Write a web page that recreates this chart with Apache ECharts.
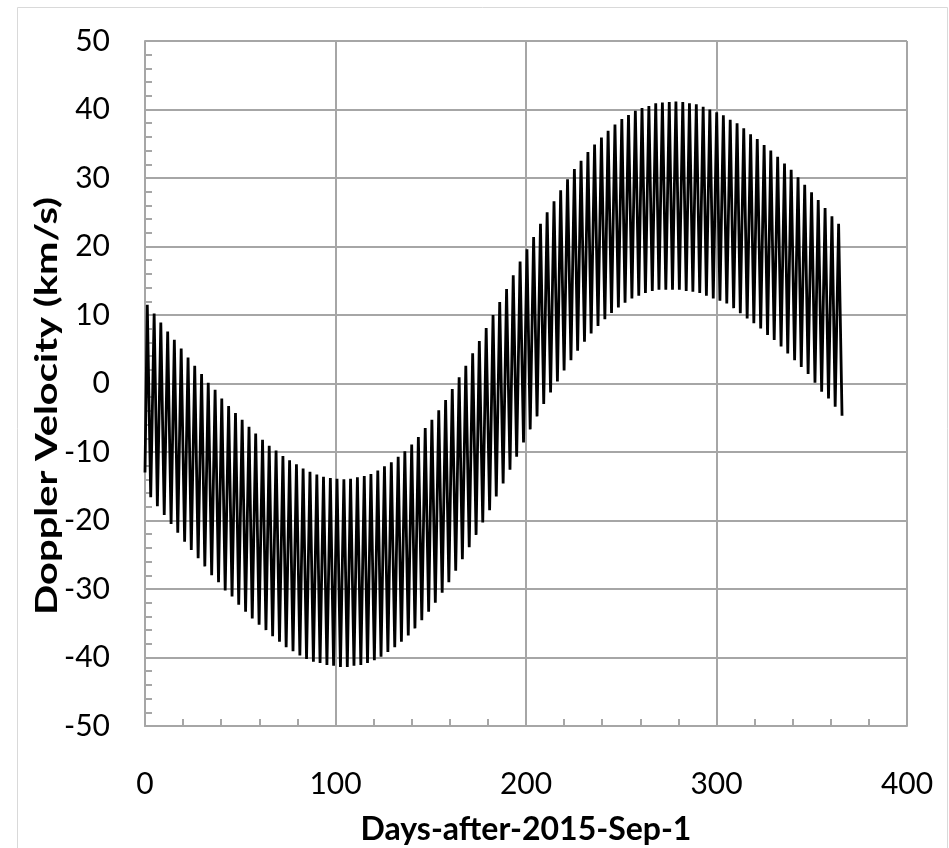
<!DOCTYPE html>
<html>
<head>
<meta charset="utf-8">
<script src="https://cdn.jsdelivr.net/npm/echarts@6/dist/echarts.min.js"></script>
<style>
html,body{margin:0;padding:0;background:#fff;}
#chart{width:949px;height:848px;}
</style>
</head>
<body>
<div id="chart"></div>
<script>
// ---- data ----
const xTicks = [0, 100, 200, 300, 400];
const yTicks = [-50, -40, -30, -20, -10, 0, 10, 20, 30, 40, 50];

const startPoint = [0, -13];

const peakDays = [1.2, 4.8, 8.3, 11.9, 15.4, 19.0, 22.6, 26.1, 29.7, 33.2,
  36.8, 40.3, 43.9, 47.5, 51.0, 54.6, 58.1, 61.7, 65.2, 68.8,
  72.4, 75.9, 79.5, 83.0, 86.6, 90.2, 93.7, 97.3, 100.8, 104.4,
  107.9, 111.5, 115.1, 118.6, 122.2, 125.7, 129.3, 132.9, 136.4, 140.0,
  143.5, 147.1, 150.6, 154.2, 157.8, 161.3, 164.9, 168.4, 172.0, 175.5,
  179.1, 182.7, 186.2, 189.8, 193.3, 196.9, 200.5, 204.0, 207.6, 211.1,
  214.7, 218.2, 221.8, 225.4, 228.9, 232.5, 236.0, 239.6, 243.1, 246.7,
  250.3, 253.8, 257.4, 260.9, 264.5, 268.1, 271.6, 275.2, 278.7, 282.3,
  285.8, 289.4, 293.0, 296.5, 300.1, 303.6, 307.2, 310.8, 314.3, 317.9,
  321.4, 325.0, 328.5, 332.1, 335.7, 339.2, 342.8, 346.3, 349.9, 353.4,
  357.0, 360.6, 364.1];

const peakVals = [11.5, 10.2, 8.9, 7.6, 6.4, 5.1, 3.8, 2.6, 1.4, 0.1,
  -0.9, -2.2, -3.3, -4.3, -5.3, -6.3, -7.3, -8.2, -9.1, -9.8,
  -10.6, -11.2, -11.8, -12.4, -12.9, -13.3, -13.6, -13.8, -13.9, -14.0,
  -13.9, -13.7, -13.5, -13.2, -12.7, -12.1, -11.5, -10.7, -9.9, -8.9,
  -7.8, -6.5, -5.3, -3.9, -2.4, -0.8, 0.9, 2.6, 4.4, 6.2,
  8.1, 10.0, 11.9, 13.8, 15.8, 17.8, 19.6, 21.4, 23.3, 25.0,
  26.6, 28.2, 29.8, 31.3, 32.5, 33.8, 34.9, 35.9, 36.9, 37.8,
  38.6, 39.2, 39.8, 40.2, 40.5, 40.9, 41.0, 41.1, 41.15, 41.1,
  40.9, 40.75, 40.4, 40.0, 39.6, 39.15, 38.5, 38.0, 37.25, 36.4,
  35.7, 34.8, 34.0, 33.1, 32.1, 31.2, 30.1, 29.0, 27.9, 26.8,
  25.6, 24.4, 23.3];

const troughDays = [3.0, 6.5, 10.1, 13.7, 17.2, 20.8, 24.3, 27.9, 31.4, 35.0,
  38.6, 42.1, 45.7, 49.2, 52.8, 56.3, 59.9, 63.5, 67.0, 70.6,
  74.1, 77.7, 81.3, 84.8, 88.4, 91.9, 95.5, 99.0, 102.6, 106.2,
  109.7, 113.3, 116.8, 120.4, 123.9, 127.5, 131.1, 134.6, 138.2, 141.7,
  145.3, 148.9, 152.4, 156.0, 159.5, 163.1, 166.6, 170.2, 173.8, 177.3,
  180.9, 184.4, 188.0, 191.6, 195.1, 198.7, 202.2, 205.8, 209.3, 212.9,
  216.5, 220.0, 223.6, 227.1, 230.7, 234.2, 237.8, 241.4, 244.9, 248.5,
  252.0, 255.6, 259.2, 262.7, 266.3, 269.8, 273.4, 276.9, 280.5, 284.1,
  287.6, 291.2, 294.7, 298.3, 301.8, 305.4, 309.0, 312.5, 316.1, 319.6,
  323.2, 326.8, 330.3, 333.9, 337.4, 341.0, 344.5, 348.1, 351.7, 355.2,
  358.8, 362.3, 365.9];

const troughVals = [-16.6, -17.9, -19.2, -20.5, -21.8, -23.1, -24.3, -25.5, -26.7, -28.0,
  -29.0, -30.2, -31.1, -32.3, -33.3, -34.3, -35.2, -36.0, -36.9, -37.7,
  -38.5, -39.1, -39.7, -40.2, -40.6, -40.8, -41.1, -41.2, -41.4, -41.4,
  -41.2, -41.1, -40.8, -40.4, -39.9, -39.2, -38.5, -37.7, -36.8, -35.75,
  -34.55, -33.3, -32.0, -30.55, -29.0, -27.35, -25.65, -23.9, -22.1, -20.3,
  -18.5, -16.5, -14.6, -12.6, -10.7, -8.6, -6.7, -4.8, -3.0, -1.3,
  0.3, 1.9, 3.4, 4.8, 6.1, 7.3, 8.4, 9.4, 10.3, 11.1,
  11.8, 12.4, 12.8, 13.2, 13.5, 13.7, 13.7, 13.7, 13.7, 13.5,
  13.4, 13.2, 12.8, 12.4, 12.1, 11.7, 11.0, 10.25, 9.5, 8.8,
  8.05, 7.1, 6.35, 5.4, 4.4, 3.4, 2.4, 1.4, 0.1, -1.2,
  -2.2, -3.4, -4.7];

const xTitle = 'Days-after-2015-Sep-1';
const yTitle = 'Doppler Velocity (km/s)';

// ---- build the line (alternating peak / trough) ----
const lineData = [startPoint];
for (let i = 0; i < peakDays.length; i++) {
  lineData.push([peakDays[i], peakVals[i]]);
  if (i < troughDays.length) lineData.push([troughDays[i], troughVals[i]]);
}

const FONT = 'Lato, "Open Sans", sans-serif';
const gridColor = '#a6a6a6';

const chart = echarts.init(document.getElementById('chart'), null, {renderer: 'canvas'});
chart.setOption({
  animation: false,
  backgroundColor: '#ffffff',
  grid: {left: 145, top: 41, right: 42, bottom: 122, containLabel: false, outerBoundsMode: 'none'},
  xAxis: {
    type: 'value',
    min: xTicks[0], max: xTicks[xTicks.length - 1], interval: 100,
    name: xTitle, nameLocation: 'middle', nameGap: 88,
    nameTextStyle: {fontFamily: FONT, fontSize: 32, fontWeight: 'bold', color: '#000'},
    axisLine: {show: true, onZero: false, lineStyle: {color: gridColor, width: 2}},
    axisTick: {show: true, inside: true, length: 7, lineStyle: {color: gridColor, width: 2}},
    minorTick: {show: true, splitNumber: 5, length: 7, lineStyle: {color: gridColor, width: 2}},
    axisLabel: {fontFamily: FONT, fontSize: 30, color: '#000', margin: 43},
    splitLine: {show: true, lineStyle: {color: gridColor, width: 2}}
  },
  yAxis: {
    type: 'value',
    min: yTicks[0], max: yTicks[yTicks.length - 1], interval: 10,
    axisLine: {show: true, onZero: false, lineStyle: {color: gridColor, width: 2}},
    axisTick: {show: true, inside: true, length: 7, lineStyle: {color: gridColor, width: 2}},
    minorTick: {show: true, splitNumber: 5, length: 7, lineStyle: {color: gridColor, width: 2}},
    axisLabel: {fontFamily: FONT, fontSize: 30, color: '#000', margin: 35},
    splitLine: {show: true, lineStyle: {color: gridColor, width: 2}}
  },
  graphic: [
    {type: 'rect', silent: true, z: -10,
      shape: {x: 17.5, y: 7.5, width: 930, height: 860},
      style: {fill: 'none', stroke: '#d9d9d9', lineWidth: 1}},
    {type: 'text', x: 47, y: 406, rotation: Math.PI / 2, scaleX: 1.33,
      style: {text: yTitle, font: 'bold 30px ' + FONT, fill: '#000',
        textAlign: 'center', textVerticalAlign: 'middle', align: 'center', verticalAlign: 'middle'}}
  ],
  series: [{
    type: 'line',
    data: lineData,
    showSymbol: false,
    symbol: 'none',
    smooth: false,
    lineStyle: {color: '#000', width: 2.8},
    z: 5
  }]
});
</script>
</body>
</html>
